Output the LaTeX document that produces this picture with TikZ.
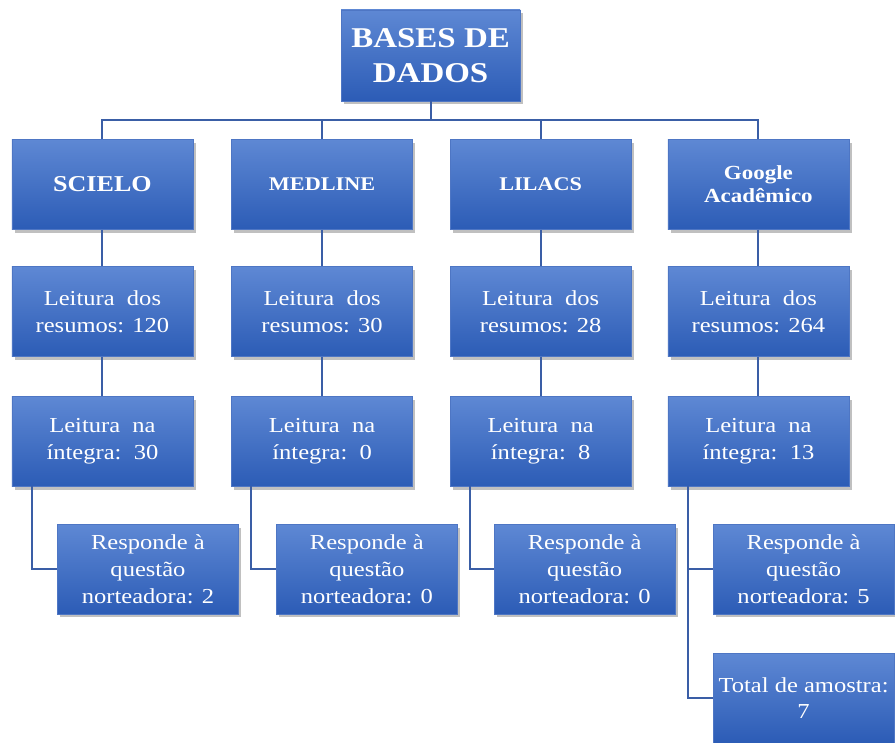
\documentclass[tikz,border=0pt]{standalone}
\usepackage{xcolor}
\usepackage{fontspec}
\setmainfont{Liberation Serif}[FakeStretch=1.15]
\usepackage{tikz}
\usetikzlibrary{positioning,calc,shadows}

\definecolor{boxtop}{RGB}{94,136,212}
\definecolor{boxbot}{RGB}{44,92,182}
\definecolor{boxrim}{RGB}{78,118,196}
\definecolor{lnkcol}{RGB}{58,94,166}

\begin{document}
\begin{tikzpicture}[
  font=\fontsize{16}{20}\selectfont,
  ent/.style={align=center, inner sep=2pt, text=white,
    top color=boxtop, bottom color=boxbot, draw=boxrim, line width=0.4pt,
    minimum width=4.77cm, minimum height=2.37cm,
    drop shadow={shadow xshift=0.07cm, shadow yshift=-0.09cm,
      fill=black!55, opacity=0.45}},
  head/.style={ent, font=\fontsize{16}{19}\selectfont\bfseries},
  lnk/.style={draw=lnkcol, line width=1.5pt}
]
\useasboundingbox (0,0) rectangle (23.59,19.56);

\node[ent, minimum width=4.72cm, minimum height=2.40cm,
  font=\fontsize{21.5}{26}\selectfont\bfseries] (bd) at (11.35,18.10) {BASES DE\\DADOS};
\coordinate (bus) at (11.35,16.40);

% bases
\node[head, font=\fontsize{17}{20}\selectfont\bfseries] (sc) at (2.70,14.70) {SCIELO};
\node[head, font=\fontsize{14.5}{18}\selectfont\bfseries] (md) at (8.49,14.70) {MEDLINE};
\node[head, font=\fontsize{14.5}{18}\selectfont\bfseries] (li) at (14.25,14.70) {LILACS};
\node[head, font=\fontsize{15}{17.5}\selectfont\bfseries] (gg) at (19.99,14.70) {Google\\Acadêmico};

\draw[lnk] (bd.south) -- (bd.south |- bus);
\draw[lnk] (sc.north) |- (bus) -| (gg.north);
\draw[lnk] (md.north) -- (md.north |- bus);
\draw[lnk] (li.north) -- (li.north |- bus);

% resumos
\node[ent] (rsc) at (2.70,11.35) {Leitura\ \ dos\\resumos: 120};
\node[ent] (rmd) at (8.49,11.35) {Leitura\ \ dos\\resumos: 30};
\node[ent] (rli) at (14.25,11.35) {Leitura\ \ dos\\resumos: 28};
\node[ent] (rgg) at (19.99,11.35) {Leitura\ \ dos\\resumos: 264};
\draw[lnk] (sc) -- (rsc);
\draw[lnk] (md) -- (rmd);
\draw[lnk] (li) -- (rli);
\draw[lnk] (gg) -- (rgg);

% integra
\node[ent] (isc) at (2.70,7.93) {Leitura\ \ na\\íntegra:\ \ 30};
\node[ent] (imd) at (8.49,7.93) {Leitura\ \ na\\íntegra:\ \ 0};
\node[ent] (ili) at (14.25,7.93) {Leitura\ \ na\\íntegra:\ \ 8};
\node[ent] (igg) at (19.99,7.93) {Leitura\ \ na\\íntegra:\ \ 13};
\draw[lnk] (rsc) -- (isc);
\draw[lnk] (rmd) -- (imd);
\draw[lnk] (rli) -- (ili);
\draw[lnk] (rgg) -- (igg);

% questao norteadora
\node[ent] (qsc) at (3.90,4.56) {Responde à\\questão\\norteadora: 2};
\node[ent] (qmd) at (9.67,4.56) {Responde à\\questão\\norteadora: 0};
\node[ent] (qli) at (15.41,4.56) {Responde à\\questão\\norteadora: 0};
\node[ent] (qgg) at (21.18,4.56) {Responde à\\questão\\norteadora: 5};
\node[ent] (tot) at (21.18,1.16) {Total de amostra:\\7};

\draw[lnk] ($(isc.south west)+(0.53,0)$) |- (qsc.west);
\draw[lnk] ($(imd.south west)+(0.53,0)$) |- (qmd.west);
\draw[lnk] ($(ili.south west)+(0.53,0)$) |- (qli.west);
\draw[lnk] ($(igg.south west)+(0.53,0)$) |- (qgg.west);
\draw[lnk] ($(igg.south west)+(0.53,0)$) |- (tot.west);
\end{tikzpicture}
\end{document}
